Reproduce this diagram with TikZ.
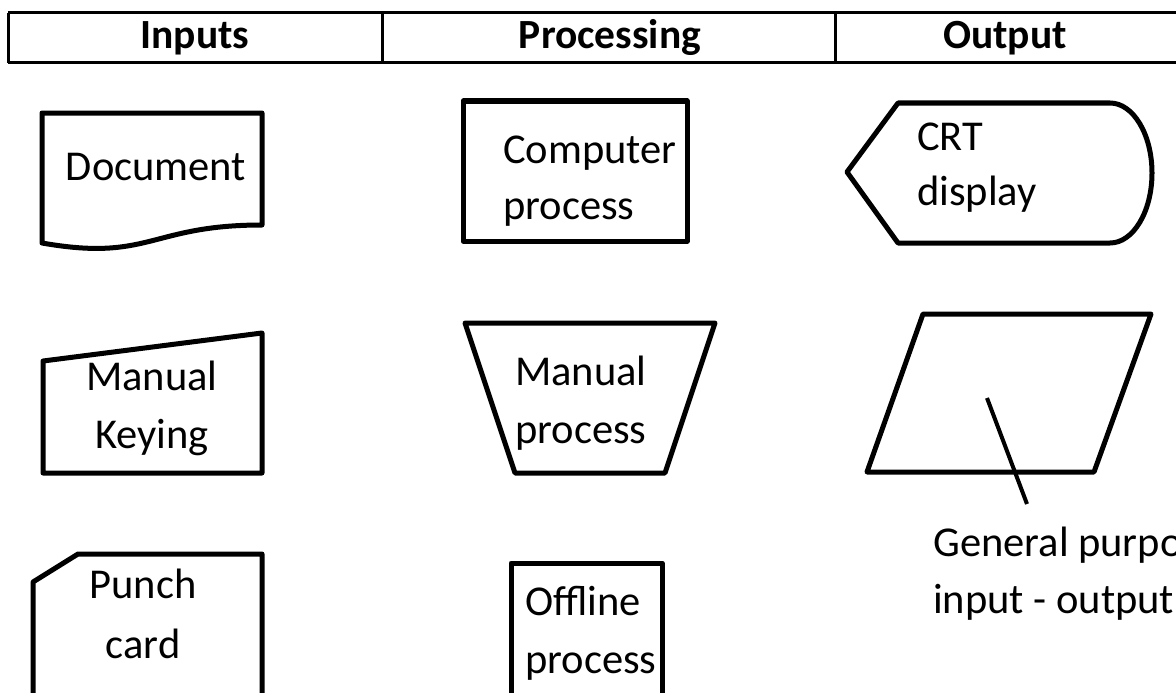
\documentclass[tikz,border=0pt]{standalone}
\usepackage{fontspec}
\setmainfont{Carlito}
\usepackage{tikz}

\tikzset{
	symb/.style={line width=5pt, line join=round, line cap=round},
	lbl/.style={font=\fontsize{42.5}{50}\selectfont, inner sep=0pt},
	head/.style={font=\fontsize{41.5}{50}\selectfont\bfseries, inner sep=0pt, anchor=base},
}

\begin{document}
\begin{tikzpicture}[x=1pt, y=-1pt]
	\useasboundingbox (0,0) rectangle (1176,693);
	\begin{scope}
	  % header table
	  \draw[line width=3pt] (8,13) -- (1176,13) (8,63) -- (1176,63);
	  \foreach \cx in {8, 382, 835}
	    \draw[line width=3pt] (\cx,13) -- (\cx,63);
	  \node[head] (hin) at (195,49) {Inputs};
	  \node[head] (hproc) at (610,49) {Processing};
	  \node[head] (hout) at (1005,49) {Output};

	  % inputs
	  \draw[symb] (42,243) -- (42,113) -- (262,113) -- (262,225)
	    .. controls (150,225) and (150,262) .. (42,243);
	  \node[lbl, anchor=base] (doc) at (156,180) {Document};

	  \draw[symb] (43,361) -- (262,333) -- (262,473) -- (43,473) -- cycle;
	  \node[lbl, anchor=base] (key1) at (152,390) {Manual};
	  \node[lbl, anchor=base] (key2) at (152,448) {Keying};

	  \draw[symb] (33,710) -- (33,582) -- (78,554) -- (262,554) -- (262,710);
	  \node[lbl, anchor=base] (card1) at (143,598) {Punch};
	  \node[lbl, anchor=base] (card2) at (143,658) {card};

	  % processing
	  \draw[symb] (463,101) rectangle (687,241);
	  \node[lbl, anchor=base west] (comp1) at (503,163) {Computer};
	  \node[lbl, anchor=base west] (comp2) at (503,219) {process};

	  \draw[symb] (465,323) -- (715,323) -- (665,473) -- (515,473) -- cycle;
	  \node[lbl, anchor=base west] (man1) at (515,385) {Manual};
	  \node[lbl, anchor=base west] (man2) at (515,443) {process};

	  \draw[symb] (511,710) -- (511,563) -- (662,563) -- (662,710);
	  \node[lbl, anchor=base west] (off1) at (525,615) {Offline};
	  \node[lbl, anchor=base west] (off2) at (525,673) {process};

	  % output
	  \draw[symb] (847,172) -- (898,103) -- (1110,103)
	    arc[start angle=-90, end angle=90, x radius=42, y radius=70]
	    -- (898,243) -- cycle;
	  \node[lbl, anchor=base west] (crt1) at (917,150) {CRT};
	  \node[lbl, anchor=base west] (crt2) at (917,205) {display};

	  \draw[symb] (923,314) -- (1151,314) -- (1094,472) -- (867,472) -- cycle;
	  \coordinate (ptr) at (987,398);
	  \coordinate (ptrend) at (1027,504);
	  \draw[line width=4pt] (ptr) -- (ptrend);
	  \node[lbl, anchor=base west] (gp1) at (933,556) {General purpo};
	  \node[lbl, anchor=base west] (gp2) at (933,613) {input - output};
	\end{scope}
\end{tikzpicture}
\end{document}
